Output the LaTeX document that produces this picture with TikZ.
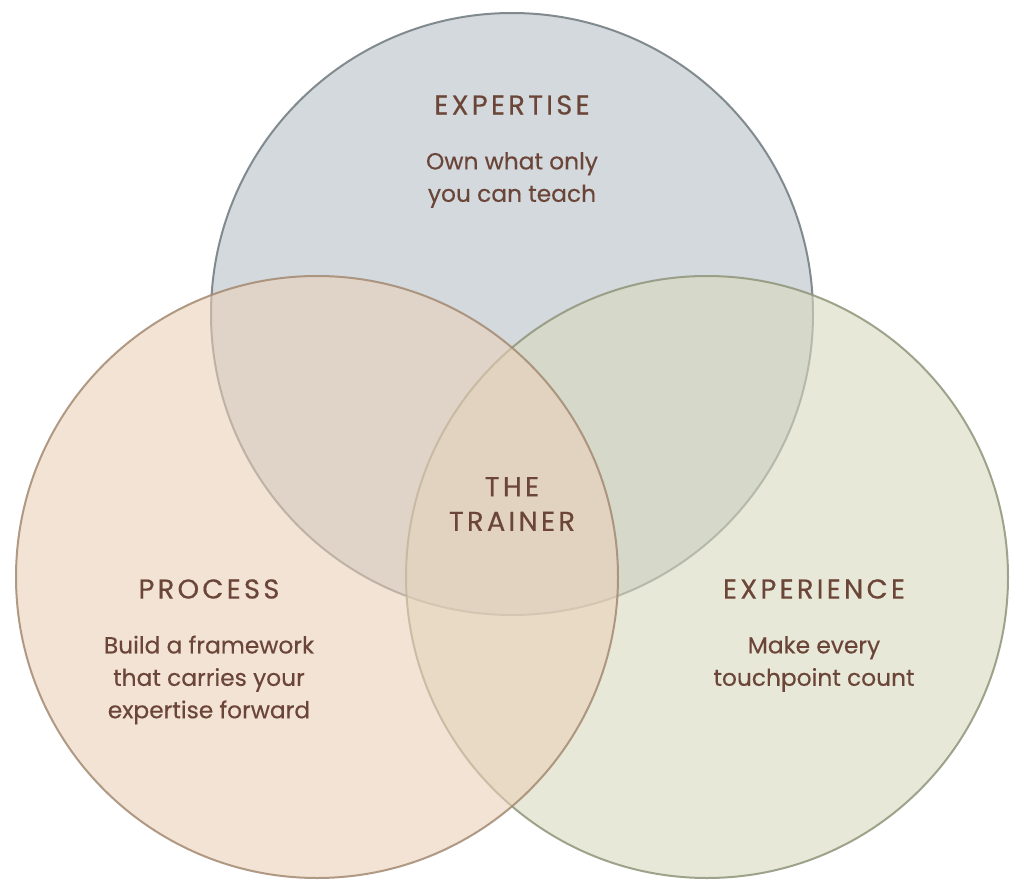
\documentclass[tikz,border=0pt]{standalone}
\usepackage{fontspec}
\setmainfont{Poppins}
\newfontfamily\titlefont[LetterSpace=12,FakeBold=0.4]{Poppins}
\newfontfamily\bodyfont[FakeBold=0.3]{Poppins}
\definecolor{topfill}{RGB}{182,193,198}
\definecolor{leftfill}{RGB}{234,208,184}
\definecolor{rightfill}{RGB}{217,217,190}
\definecolor{topline}{RGB}{112,122,126}
\definecolor{leftline}{RGB}{164,138,114}
\definecolor{rightline}{RGB}{143,150,122}
\definecolor{txt}{RGB}{107,69,56}
\begin{document}
\begin{tikzpicture}[x=0.75pt,y=-0.75pt,
  setcircle/.style={line width=1.5pt, fill opacity=0.6, draw opacity=0.85},
  title/.style={text=txt, font=\titlefont\fontsize{20.5}{26}\selectfont, align=center, inner sep=0pt},
  body/.style={text=txt, font=\bodyfont\fontsize{17.5}{24.3}\selectfont, align=center, inner sep=0pt}]
\useasboundingbox (0,0) rectangle (1025,892);
\fill[white] (0,0) rectangle (1025,892);
\path[setcircle, fill=topfill, draw=topline] (512,314) circle (301);
\path[setcircle, fill=rightfill, draw=rightline] (707,577) circle (301);
\path[setcircle, fill=leftfill, draw=leftline, fill opacity=0.58] (317,577) circle (301);
\node[title] (t1) at (512,105) {EXPERTISE};
\node[body] (b1) at (512,180) {Own what only\\you can teach};
\node[title] (t2) at (512,504) {THE\\TRAINER};
\node[title] (t3) at (209,589) {PROCESS};
\node[body] (b3) at (209,680) {Build a framework\\that carries your\\expertise forward};
\node[title] (t4) at (814,589) {EXPERIENCE};
\node[body] (b4) at (814,664) {Make every\\touchpoint count};
\end{tikzpicture}
\end{document}
